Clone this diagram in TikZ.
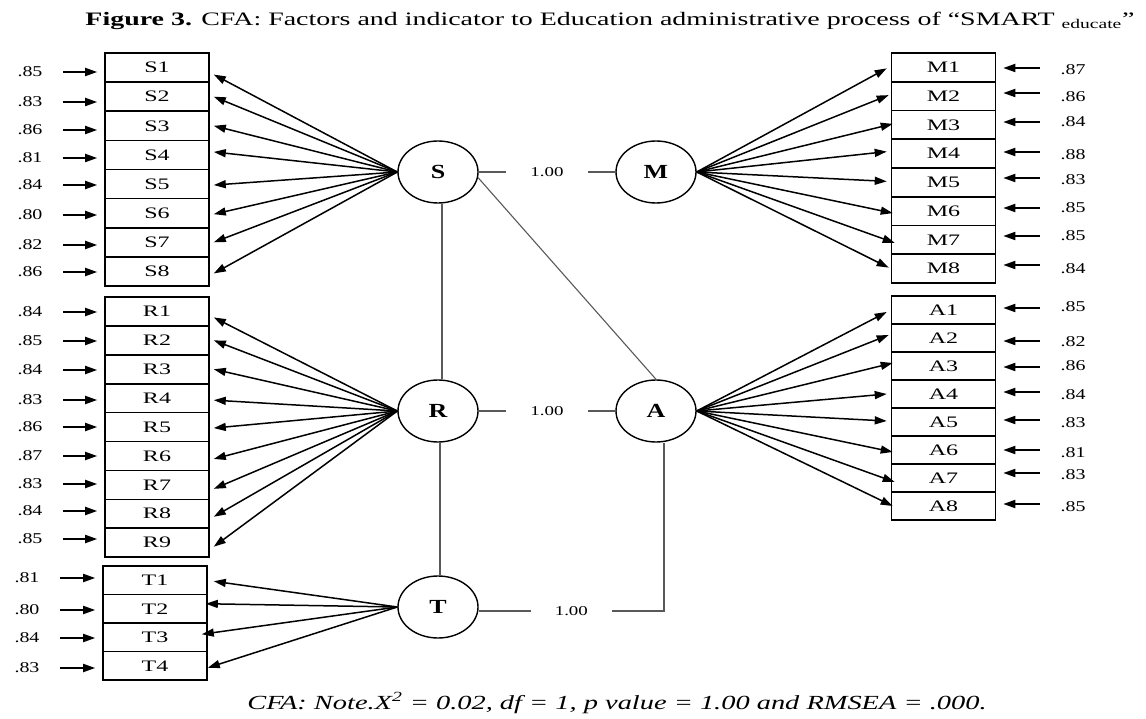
\documentclass[tikz,border=0pt]{standalone}
\usepackage{fontspec}
\usepackage{graphicx}
\setmainfont{Liberation Serif}
\usetikzlibrary{arrows.meta,shapes.geometric,calc}
\newcommand\hstr[2]{\scalebox{#1}[1]{#2}}
\begin{document}
\begin{tikzpicture}[x=1pt,y=-1pt,
 ind/.style={draw, line width=1.6pt, minimum width=104pt, inner sep=0pt, font=\fontsize{16}{17}\selectfont},
 fac/.style={draw, ellipse, line width=1.4pt, minimum width=80pt, minimum height=62pt, inner sep=0pt, font=\fontsize{20}{21}\selectfont\bfseries},
 errl/.style={font=\fontsize{15}{16}\selectfont, inner sep=0pt},
 err/.style={-{Triangle[length=12pt,width=8pt]}, line width=1.8pt},
 fan/.style={-{Triangle[length=12pt,width=8pt]}, line width=1.5pt},
 corr/.style={line width=1.1pt, draw=black!65},
 lbl/.style={fill=white, inner xsep=24pt, inner ysep=2pt, font=\fontsize{13.5}{14}\selectfont}
]
\useasboundingbox (0,0) rectangle (1146,719);

% title
\node[font=\fontsize{19}{21}\selectfont] (title) at (610,21)
 {\hstr{1.47}{\textbf{Figure 3.} CFA: Factors and indicator to Education administrative process of “SMART \textsubscript{educate}”}};

% factors
\node[fac] (S) at (438,172) {\hstr{1.3}{S}};
\node[fac] (M) at (656,172) {\hstr{1.3}{M}};
\node[fac] (R) at (438,411) {\hstr{1.3}{R}};
\node[fac] (A) at (656,411) {\hstr{1.3}{A}};
\node[fac] (T) at (438,607) {\hstr{1.3}{T}};

% S indicators
\foreach \i in {1,...,8}{
 \node[ind, minimum height=29.125pt] (S\i) at (157,{53+(\i-0.5)*29.125}) {\hstr{1.5}{S\i}};
}
\foreach \v/\y [count=\i] in {.85/72,.83/102,.86/130,.81/158,.84/185,.80/215,.82/245,.86/272}{
 \node[errl] (eS\i) at (30,\y) {\hstr{1.33}{\v}};
 \coordinate (aS\i) at (63,\y);
 \draw[err, shorten >=7pt] (aS\i) -- (aS\i -| S\i.west);
}
\foreach \ys [count=\i] in {-7,0,0,3,-1,-1,0,-2}{
 \draw[fan] (S.west) -- ([xshift=4pt,yshift=\ys pt]S\i.east);
}

% R indicators
\foreach \i in {1,...,9}{
 \node[ind, minimum height=28.9pt] (R\i) at (157,{297+(\i-0.5)*28.9}) {\hstr{1.5}{R\i}};
}
\foreach \v/\y [count=\i] in {.84/312,.85/341,.84/370,.83/400,.86/427,.87/456,.83/484,.84/511,.85/539}{
 \node[errl] (eR\i) at (30,\y) {\hstr{1.33}{\v}};
 \coordinate (aR\i) at (63,\y);
 \draw[err, shorten >=7pt] (aR\i) -- (aR\i -| R\i.west);
}
\foreach \ys [count=\i] in {-6,0,0,-2,-1,-3,-4,-3,-4}{
 \draw[fan] (R.west) -- ([xshift=4pt,yshift=\ys pt]R\i.east);
}

% T indicators
\foreach \i in {1,...,4}{
 \node[ind, minimum height=28.5pt] (T\i) at (155,{566+(\i-0.5)*28.5}) {\hstr{1.5}{T\i}};
}
\foreach \v/\y [count=\i] in {.81/578,.80/610,.84/638,.83/668}{
 \node[errl] (eT\i) at (27,\y) {\hstr{1.33}{\v}};
 \coordinate (aT\i) at (60,\y);
 \draw[err, shorten >=7pt] (aT\i) -- (aT\i -| T\i.west);
}
\foreach \xs/\ys [count=\i] in {6/-1,-2/5,-6/3,0/-2}{
 \draw[fan] (T.west) -- ([xshift=\xs pt,yshift=\ys pt]T\i.east);
}

% M indicators
\foreach \i in {1,...,8}{
 \node[ind, minimum height=28.75pt] (M\i) at (943.5,{53+(\i-0.5)*28.75}) {\hstr{1.5}{M\i}};
}
\foreach \v/\y [count=\i] in {.87/70,.86/97,.84/122,.88/155,.83/180,.85/208,.85/236,.84/269}{
 \node[errl] (eM\i) at (1073,\y) {\hstr{1.33}{\v}};
}
\foreach \y [count=\i] in {68,93,122,152,178,208,236,265}{
 \coordinate (aM\i) at (1040,\y);
 \draw[err, shorten >=7pt] (aM\i) -- (aM\i -| M\i.east);
}
\foreach \xs/\ys [count=\i] in {-4/-1,-2/1,2/1,-4/2,-4/1,2/-2,4/-3,-2/1}{
 \draw[fan] (M.east) -- ([xshift=\xs pt,yshift=\ys pt]M\i.west);
}

% A indicators
\foreach \i in {1,...,8}{
 \node[ind, minimum height=28pt] (A\i) at (943.5,{296+(\i-0.5)*28}) {\hstr{1.5}{A\i}};
}
\foreach \v/\y [count=\i] in {.85/307,.82/342,.86/366,.84/395,.83/423,.81/453,.83/475,.85/507}{
 \node[errl] (eA\i) at (1073,\y) {\hstr{1.33}{\v}};
}
\foreach \y [count=\i] in {308,341,367,392,420,450,473,504}{
 \coordinate (aA\i) at (1040,\y);
 \draw[err, shorten >=7pt] (aA\i) -- (aA\i -| A\i.east);
}
\foreach \xs/\ys [count=\i] in {-4/-2,-2/3,2/3,-4/0,-4/1,2/-2,4/-4,2/0}{
 \draw[fan] (A.east) -- ([xshift=\xs pt,yshift=\ys pt]A\i.west);
}

% correlations
\draw[corr] (S.east) -- node[lbl] {\hstr{1.4}{1.00}} (M.west);
\draw[corr] (R.east) -- node[lbl] {\hstr{1.4}{1.00}} (A.west);
\draw[corr] (S.-8) -- (A.north);
\draw[corr] ([xshift=4pt]S.south) -- ([xshift=4pt]R.north);
\draw[corr] ([xshift=2pt]R.south) -- ([xshift=2pt]T.north);
\coordinate (TA) at (664,611);
\draw[corr] (T.east |- TA) -- node[lbl] {\hstr{1.4}{1.00}} (TA) -- (TA |- A.south);

% note
\node[font=\fontsize{20}{22}\selectfont\itshape] (note) at (617,703)
 {\hstr{1.42}{CFA: Note.X\textsuperscript{2} = 0.02, df = 1, p value = 1.00 and RMSEA = .000.}};
\end{tikzpicture}
\end{document}
